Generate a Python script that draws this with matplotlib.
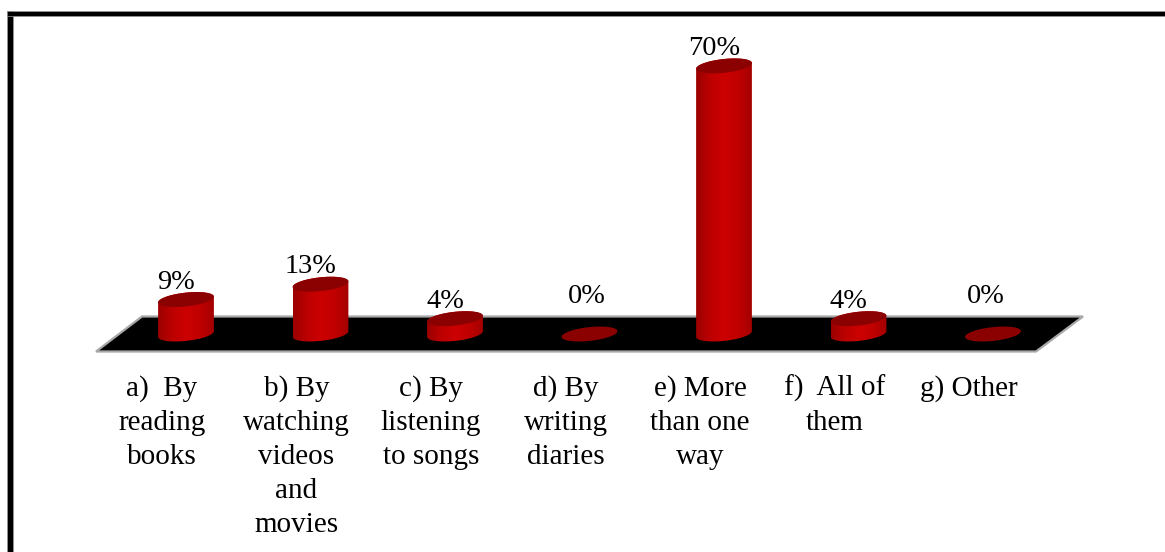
import numpy as np
import matplotlib
matplotlib.use("Agg")
import matplotlib.pyplot as plt
from matplotlib.colors import LinearSegmentedColormap
from matplotlib.patches import Polygon, Rectangle

categories = ["a)  By\nreading\nbooks", "b) By\nwatching\nvideos\nand\nmovies", "c) By\nlistening\nto songs",
              "d) By\nwriting\ndiaries", "e) More\nthan one\nway", "f)  All of\nthem", "g) Other"]
values = [9, 13, 4, 0, 70, 4, 0]

W, H = 1165, 552
PX_X = 134.5   # pixels per category
PX_Y = 3.83    # pixels per percent
X0 = 186       # pixel of first category
Y0 = 334       # pixel of the 0% level
YMIN, YMAX = -6, 75

plt.rcParams["font.family"] = ["Liberation Serif", "DejaVu Serif"]
fig = plt.figure(figsize=(W / 100, H / 100), dpi=100, facecolor="white")


def px(x, y):
    return x / W, 1 - y / H


# frame around the chart, only top and left are visible
fig.add_artist(Rectangle(px(7, H), 5.5 / W, (H - 11) / H, fc="black", ec="#999999", lw=0.5, zorder=-2))
fig.add_artist(Rectangle(px(7, 15.5), (W - 7) / W, 4.5 / H, fc="black", ec="#999999", lw=0.5, zorder=-2))

# black floor of the 3D chart
fig.add_artist(Polygon([px(142, 316.5), px(1083, 316.5), px(1036, 351.5), px(96, 351.5)],
                       closed=True, fc="black", ec="#a8a8a8", lw=1.6, zorder=-1))

left = X0 - 0.5 * PX_X
bottom = Y0 - YMIN * PX_Y
top = Y0 - YMAX * PX_Y
ax = fig.add_axes([left / W, 1 - bottom / H, 7 * PX_X / W, (bottom - top) / H])
ax.patch.set_alpha(0)

shade = LinearSegmentedColormap.from_list("cyl", ["#9c0000", "#bc0000", "#cc0000", "#c00000", "#a40000"])
gradient = np.linspace(0, 1, 64).reshape(1, -1)

RX, RY, TILT = 28, 7, np.radians(5.5)
t = np.linspace(0, 2 * np.pi, 181)
ex = RX * np.cos(t) * np.cos(TILT) + RY * np.sin(t) * np.sin(TILT)
ey = RX * np.cos(t) * np.sin(TILT) + RY * np.sin(t) * np.cos(TILT)   # pixels, y up


def ellipse(i, v):
    return np.column_stack([i + ex / PX_X, v + ey / PX_Y])


for i, v in enumerate(values):
    ring_top = ellipse(i, v)
    ring_bottom = ellipse(i, 0)
    if v > 0:
        # side of the cylinder is the hull of both rings, filled with a sideways gradient
        lo = np.argmin(ex)
        hi = np.argmax(ex)
        upper = ring_top[hi:lo + 1] if hi < lo else np.vstack([ring_top[hi:], ring_top[:lo + 1]])
        lower = ring_bottom[lo:hi + 1] if lo < hi else np.vstack([ring_bottom[lo:], ring_bottom[:hi + 1]])
        body = Polygon(np.vstack([upper, lower]), closed=True, fc="none", ec="none", transform=ax.transData)
        ax.add_patch(body)
        im = ax.imshow(gradient, cmap=shade, aspect="auto", interpolation="bilinear", zorder=2,
                       extent=[i - RX / PX_X, i + RX / PX_X, YMIN, YMAX])
        im.set_clip_path(body)
    ax.add_patch(Polygon(ring_top, closed=True, fc="#8b0000", ec="none", zorder=3))

    dx, dy = (-10, 11) if v > 0 else (-7 if i == 6 else -3, 31)
    ax.annotate(f"{v}%", (i, v), xytext=(dx * 0.72, dy * 0.72), textcoords="offset points",
                ha="center", va="baseline", fontsize=20.4, color="black", zorder=4)

ax.set_xlim(-0.5, 6.5)
ax.set_ylim(YMIN, YMAX)
ax.set_xticks([i - 24 / PX_X for i in range(len(categories))])
ax.set_xticklabels(categories, fontsize=21, linespacing=1.4)
ax.tick_params(axis="x", length=0, pad=13)
ax.set_yticks([])
for s in ax.spines.values():
    s.set_visible(False)

fig.savefig("out.png", dpi=100, facecolor="white")
